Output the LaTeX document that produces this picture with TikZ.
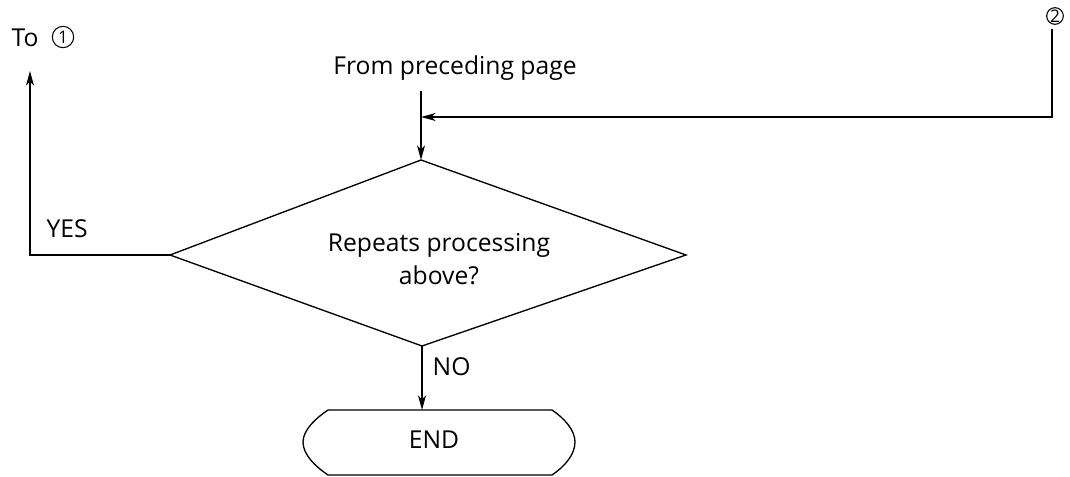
\documentclass[tikz,border=0pt]{standalone}
\usepackage{fontspec}
\setmainfont{Open Sans}
\usetikzlibrary{arrows.meta}
\begin{document}
\begin{tikzpicture}[x=0.75pt,y=-0.75pt,
  line width=1pt,
  arr/.style={-{Stealth[length=11pt,width=6pt,inset=3pt]}},
  lbl/.style={font=\fontsize{18.5}{22}\selectfont,inner sep=0pt},
  circnum/.style={circle,draw,line width=0.8pt,inner sep=0pt,font=\fontsize{13}{14}\selectfont}]
\useasboundingbox (0,0) rectangle (1070,477);
% diamond
\coordinate (dl) at (170,255);
\coordinate (dt) at (421,160);
\coordinate (dr) at (686,255);
\coordinate (db) at (422,346);
\draw (dl) -- (dt) -- (dr) -- (db) -- cycle;
\node[lbl,align=center] (q) at (439,259) {Repeats processing\\[3pt]above?};
% from preceding page
\node[lbl] (from) at (455,68) {From preceding page};
\coordinate (ftop) at (421,91);
\draw[arr] (ftop) -- (dt);
\coordinate (join) at (421,117);
% circled 2
\node[circnum,minimum size=12.5pt] (c2) at (1055,16) {2};
\coordinate (c2b) at (1052,29);
\coordinate (c2c) at (1052,117);
\draw[arr] (c2b) -- (c2c) -- (join);
% left YES branch
\node[lbl,anchor=west] (to) at (11,38) {To};
\node[circnum,minimum size=16pt] (c1) at (63,37) {1};
\coordinate (lc) at (30,255);
\coordinate (lt) at (30,71);
\draw[arr] (dl) -- (lc) -- (lt);
\node[lbl,anchor=west] (yes) at (46,229) {YES};
% NO branch
\node[lbl,anchor=west] (no) at (432,367) {NO};
% END terminal
\coordinate (et) at (422,410);
\draw[arr] (db) -- (et);
\draw (328,410) -- (552,410)
  .. controls (564,418) and (575,430) .. (575,442)
  .. controls (575,455) and (564,467) .. (552,475)
  -- (328,475)
  .. controls (316,467) and (303,455) .. (303,442)
  .. controls (303,430) and (316,418) .. (328,410) -- cycle;
\node[lbl] (end) at (434,440) {END};
\end{tikzpicture}
\end{document}
